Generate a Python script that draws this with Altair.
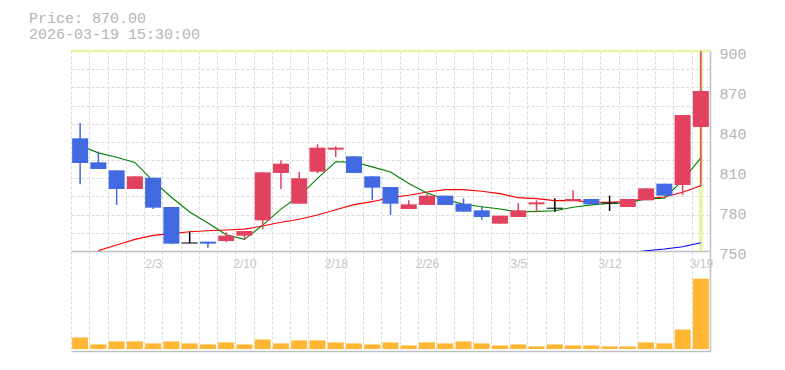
import json
import altair as alt
import pandas as pd

# ---------------- data ----------------
dates = ["1/28", "1/29", "1/30", "2/2", "2/3", "2/4", "2/5", "2/6", "2/9", "2/10",
         "2/12", "2/13", "2/16", "2/17", "2/18", "2/19", "2/20", "2/24", "2/25", "2/26",
         "2/27", "3/2", "3/3", "3/4", "3/5", "3/6", "3/9", "3/10", "3/11", "3/12",
         "3/13", "3/16", "3/17", "3/18", "3/19"]

opens = [834.5, 816.5, 810.5, 796.5, 805, 783, 756, 757, 757.5, 761.5,
         773, 808.5, 785.5, 809.5, 826, 821, 806, 798, 781.5, 784.5,
         791.5, 785.5, 780.5, 770.5, 775.5, 785, 782, 787.5, 789, 786,
         783, 788, 800.5, 799.5, 843]
closes = [816, 811.5, 796.5, 806, 782.5, 755.5, 756, 755.5, 761.5, 765,
          809, 815.5, 804.5, 827.5, 827.5, 808.5, 797.5, 785.5, 785, 791.5,
          784.5, 779.5, 775.5, 776.5, 780.5, 786.5, 782, 789, 785, 786,
          789, 797, 791.5, 852, 870]
highs = [846, 824.5, 810.5, 806, 805, 783, 764.5, 757, 764, 765,
         809, 818, 809.5, 830, 828.5, 821, 806, 798, 788, 793,
         791.5, 789.5, 783, 776.5, 786, 788, 789.5, 795.5, 789, 791.5,
         789, 797, 800.5, 852, 900]
lows = [800, 811.5, 784.5, 796.5, 781.5, 755.5, 756, 752.5, 756.5, 758.5,
        766.5, 796.5, 785.5, 808.5, 820.5, 808.5, 788, 777, 781.5, 784.5,
        784.5, 779.5, 773.5, 770.5, 775.5, 779, 779.5, 787.5, 785, 780,
        783, 788, 791.5, 792, 798.5]

ma_short = [829, 823.6, 820.3, 816.4, 802.4, 790.3, 779.3, 771, 762.2, 758.7,
            769.4, 781.4, 791.2, 804.4, 816.9, 816.8, 813.1, 809.3, 800.7, 793.5,
            788.7, 785.1, 783.2, 781.5, 779.3, 779.7, 780.2, 782.8, 784.6, 785.6,
            786.1, 789.1, 789.6, 803, 819.9]
ma_mid = [None, 750.3, 754.5, 758.7, 761.7, 763, 764.4, 765.2, 765.7, 766.4,
          768.7, 771.6, 773.8, 777, 781, 784.8, 787, 790, 791.8, 794.3,
          796, 796, 794.8, 793, 790, 789.3, 787.8, 788, 786.6, 786.6,
          787.3, 789.3, 790.5, 794, 799]
ma_long = [None] * 30 + [748.5, 750.2, 751.5, 753.2, 756.2]

volumes = [35000, 14000, 23000, 23000, 17000, 23000, 17000, 14000, 20000, 14000,
           29000, 17000, 26000, 26000, 20000, 17000, 14000, 20000, 11000, 20000,
           17000, 23000, 17000, 11000, 14000, 8000, 14000, 11000, 11000, 8000,
           8000, 20000, 17000, 59000, 213000]

x_labels = ["2/3", "2/10", "2/18", "2/26", "3/5", "3/12", "3/19"]
y_labels = [750, 780, 810, 840, 870, 900]
price_domain = [750, 900]
volume_domain = [-6000, 297000]
timestamp = "2026-03-19 15:30:00"

# ---------------- styles ----------------
RED = "#E2415F"
BLUE = "#4169E1"
VOL = "#FFB733"
YEL = "#E8F5A8"
GRID = "#dadada"
AXIS = "#c0c0c0"
TXT = "#b5b5b5"
MONO = "Liberation Mono"
SANS = "Liberation Sans"

df = pd.DataFrame({
    "date": dates, "open": opens, "high": highs, "low": lows, "close": closes,
    "ma_short": ma_short, "ma_mid": ma_mid, "ma_long": ma_long, "volume": volumes,
})
df["dir"] = ["up" if c > o else ("down" if c < o else "flat") for o, c in zip(opens, closes)]
df_last = df.iloc[[-1]]
df_text = pd.DataFrame({"l1": [f"Price: {closes[-1]:.2f}"], "l2": [timestamp]})

grid_vals = [price_domain[0] + (price_domain[1] - price_domain[0]) * k / 11 for k in range(12)]

x_scale = alt.Scale(domain=dates, paddingInner=0, paddingOuter=0)
y_scale = alt.Scale(domain=price_domain, nice=False, zero=False)
color_scale = alt.Scale(domain=["up", "down", "flat"], range=[RED, BLUE, "#000000"])

label_expr = "indexof(" + json.dumps(x_labels) + ", datum.value) >= 0 ? datum.value : ''"

x_axis_price = alt.Axis(title=None, tickBand="extent", grid=True, gridColor=GRID,
                        gridDash=[3, 2], gridWidth=1, ticks=False, domain=True,
                        domainColor=AXIS, domainWidth=1.5, labelExpr=label_expr,
                        labelAngle=0, labelFont=SANS, labelFontSize=12,
                        labelColor="#c4c4c4", labelPadding=7, labelOverlap=False)
x_enc = alt.X("date:N", scale=x_scale, axis=x_axis_price)

y_grid_axis = alt.Axis(title=None, orient="left", values=grid_vals, grid=True,
                       gridColor=GRID, gridDash=[3, 2], gridWidth=1,
                       labels=False, ticks=False, domain=False)
y_label_axis = alt.Axis(title=None, orient="right", values=y_labels, grid=False,
                        ticks=False, domain=True, domainColor=AXIS, domainWidth=1.5,
                        labelFont=MONO, labelFontSize=15, labelColor=TXT,
                        labelPadding=9, labelOffset=2)

cross_h = alt.Chart(df_last).mark_rule(color=YEL, strokeWidth=2.5).encode(
    y=alt.YDatum(price_domain[1], scale=y_scale, axis=y_grid_axis))
cross_v = alt.Chart(df_last).mark_rule(color=YEL, strokeWidth=4).encode(
    x=x_enc,
    y=alt.YDatum(price_domain[0], scale=y_scale, axis=None),
    y2=alt.Y2Datum(price_domain[1]))

def ma_line(field, color):
    return alt.Chart(df).mark_line(color=color, strokeWidth=1.1, clip=True).encode(
        x=x_enc, y=alt.Y(f"{field}:Q", scale=y_scale, axis=None))

wicks = alt.Chart(df).mark_rule(strokeWidth=1.5).encode(
    x=x_enc,
    y=alt.Y("low:Q", scale=y_scale, axis=None),
    y2="high:Q",
    color=alt.Color("dir:N", scale=color_scale, legend=None))
bodies = alt.Chart(df).transform_filter("datum.dir != 'flat'").mark_bar(width=16).encode(
    x=x_enc,
    y=alt.Y("open:Q", scale=y_scale, axis=y_label_axis),
    y2="close:Q",
    color=alt.Color("dir:N", scale=color_scale, legend=None))
dojis = alt.Chart(df).transform_filter("datum.dir == 'flat'").mark_tick(
    size=16, thickness=1.5, color="#000000").encode(
    x=x_enc, y=alt.Y("close:Q", scale=y_scale, axis=None))

text1 = alt.Chart(df_text).mark_text(align="left", baseline="alphabetic", font=MONO,
                                     fontSize=15, color=TXT).encode(
    x=alt.value(-42), y=alt.value(-28), text="l1:N")
text2 = alt.Chart(df_text).mark_text(align="left", baseline="alphabetic", font=MONO,
                                     fontSize=15, color=TXT).encode(
    x=alt.value(-42), y=alt.value(-12), text="l2:N")

price = alt.layer(
    cross_h, cross_v,
    ma_line("ma_long", "#0000FF"), ma_line("ma_mid", "#FF0000"), ma_line("ma_short", "#008000"),
    wicks, bodies, dojis, text1, text2,
).resolve_axis(y="independent").properties(width=639, height=200)

x_axis_vol = alt.Axis(title=None, tickBand="extent", grid=True, gridColor=GRID,
                      gridDash=[3, 2], gridWidth=1, ticks=False, labels=False,
                      domain=True, domainColor=AXIS, domainWidth=1.5)
y_axis_vol = alt.Axis(title=None, orient="right", grid=False, ticks=False, labels=False,
                      domain=True, domainColor=AXIS, domainWidth=1.5)

vol = alt.Chart(df).mark_bar(width=16, color=VOL).encode(
    x=alt.X("date:N", scale=x_scale, axis=x_axis_vol),
    y=alt.Y("volume:Q", scale=alt.Scale(domain=volume_domain, nice=False), axis=y_axis_vol),
    y2=alt.Y2Datum(0),
).properties(width=639, height=100)

chart = alt.vconcat(price, vol, spacing=0, bounds="flush").configure_view(
    stroke="transparent").properties(
    padding={"left": 20, "top": 2, "right": 5, "bottom": 5}, background="white")

chart.save("out.html", embed_options={"renderer": "svg", "actions": False})
